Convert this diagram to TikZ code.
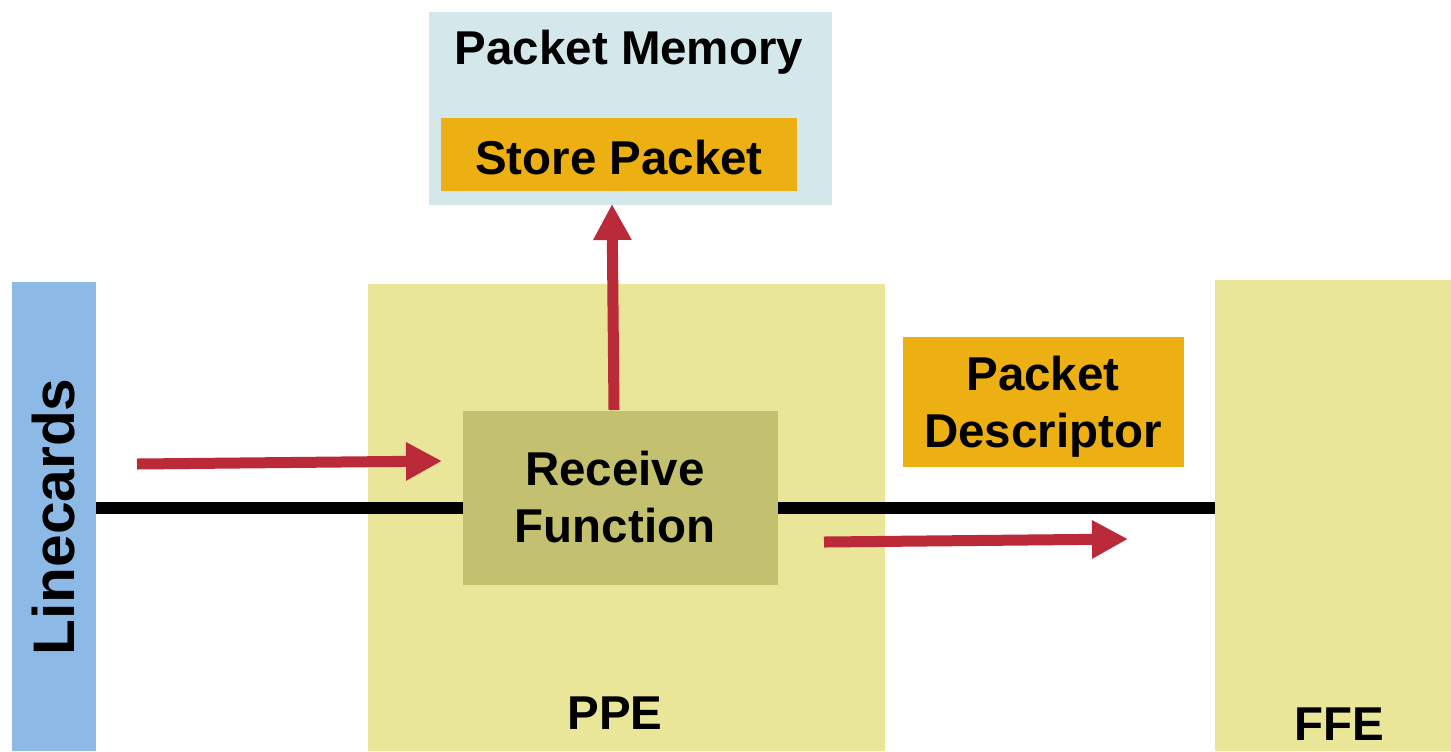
\documentclass[tikz,border=0pt]{standalone}
\usepackage{fontspec}
\setmainfont{Liberation Sans}
\usetikzlibrary{fit,arrows.meta}
\definecolor{lcblue}{HTML}{8DB9E6}
\definecolor{engine}{HTML}{EAE699}
\definecolor{recv}{HTML}{C3C070}
\definecolor{tag}{HTML}{EDB012}
\definecolor{mem}{HTML}{D4E8EC}
\definecolor{flow}{HTML}{BA2A38}
\tikzset{
  block/.style={inner sep=0pt, outer sep=0pt, draw=none},
  label/.style={font=\fontsize{35.6}{42.75}\selectfont\bfseries, align=center, inner sep=0pt},
  flowarrow/.style={draw=flow, line width=8.25pt, -{Triangle[length=27pt,width=27pt]}},
  bus/.style={draw=black, line width=9pt}
}
\begin{document}
\begin{tikzpicture}[x=0.75pt,y=-0.75pt]
\useasboundingbox (0,0) rectangle (1451,751);
% large blocks
\node[block, fill=lcblue, fit={(12,282)(96,751)}] (lc) {};
\node[block, fill=engine, fit={(368,284)(885,751)}] (ppe) {};
\node[block, fill=engine, fit={(1215,280)(1451,751)}] (ffe) {};
\node[block, fill=mem, fit={(429,12)(832,205)}] (mem) {};
\node[block, fill=tag, fit={(441,118)(797,191)}] (store) {};
\node[block, fill=tag, fit={(903,337)(1184,467)}] (desc) {};
% interconnect bus
\draw[bus] (lc.east |- 0,508) -- (ffe.west |- 0,508);
% receive function block sits on the bus
\node[block, fill=recv, fit={(463,411)(778,585)}] (rx) {};
% texts
\node[label, rotate=90, font=\fontsize{44}{50}\selectfont\bfseries] (lctext) at (54,517) {Linecards};
\node[label] (memtext) at (629,52) {Packet Memory};
\node[label] (storetext) at (619,158) {Store Packet};
\node[label] (rxtext) at (615,497) {Receive\\Function};
\node[label] (desctext) at (1043,407) {Packet\\Descriptor};
\node[label] (ppetext) at (615,713) {PPE};
\node[label] (ffetext) at (1339,724) {FFE};
% flow arrows
\coordinate (inA) at (137,464);
\coordinate (inB) at (442,461);
\coordinate (upA) at (614,410);
\coordinate (upB) at (612,204);
\coordinate (outA) at (824,542);
\coordinate (outB) at (1128,539);
\draw[flowarrow] (inA) -- (inB);
\draw[flowarrow] (upA) -- (upB);
\draw[flowarrow] (outA) -- (outB);
\end{tikzpicture}
\end{document}
